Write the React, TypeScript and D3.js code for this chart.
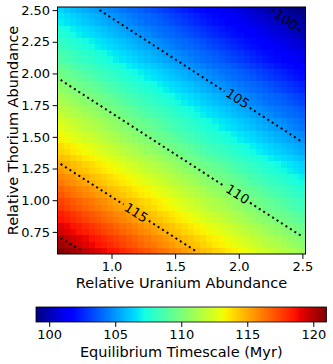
import React, { useEffect, useRef } from "react";
import * as d3 from "d3";

// cell centres of the image grid
const uraniumValues = [
  0.6, 0.649, 0.697, 0.746, 0.795, 0.844, 0.892, 0.941, 0.99, 1.038,
  1.087, 1.136, 1.185, 1.233, 1.282, 1.331, 1.379, 1.428, 1.477, 1.526,
  1.574, 1.623, 1.672, 1.721, 1.769, 1.818, 1.867, 1.915, 1.964, 2.013,
  2.062, 2.11, 2.159, 2.208, 2.256, 2.305, 2.354, 2.403, 2.451, 2.5,
];
const thoriumValues = [
  0.6, 0.649, 0.697, 0.746, 0.795, 0.844, 0.892, 0.941, 0.99, 1.038,
  1.087, 1.136, 1.185, 1.233, 1.282, 1.331, 1.379, 1.428, 1.477, 1.526,
  1.574, 1.623, 1.672, 1.721, 1.769, 1.818, 1.867, 1.915, 1.964, 2.013,
  2.062, 2.11, 2.159, 2.208, 2.256, 2.305, 2.354, 2.403, 2.451, 2.5,
];

// timescale (Myr) read along the gradient, one value per cell step,
// from the lower left corner towards the upper right corner
const timescaleProfile = [
  121.0, 120.7, 120.4, 120.1, 119.8, 119.5, 119.2, 118.9, 118.6, 118.4,
  118.1, 117.8, 117.5, 117.2, 117.0, 116.7, 116.4, 116.2, 115.9, 115.7,
  115.4, 115.1, 114.9, 114.6, 114.4, 114.1, 113.9, 113.6, 113.4, 113.2,
  112.9, 112.7, 112.4, 112.2, 112.0, 111.7, 111.5, 111.3, 111.1, 110.8,
  110.6, 110.4, 110.2, 109.9, 109.7, 109.5, 109.3, 109.1, 108.8, 108.6,
  108.4, 108.2, 108.0, 107.8, 107.6, 107.4, 107.2, 106.9, 106.7, 106.5,
  106.3, 106.1, 105.9, 105.7, 105.5, 105.3, 105.1, 104.9, 104.7, 104.5,
  104.3, 104.1, 104.0, 103.8, 103.6, 103.4, 103.2, 103.0, 102.8, 102.6,
  102.4, 102.2, 102.0, 101.9, 101.7, 101.5, 101.3, 101.1, 100.9, 100.8,
  100.6, 100.4, 100.2, 100.0, 99.9, 99.7, 99.5, 99.3, 99.1, 99.0,
];
// where each thorium row (bottom to top) starts in the profile
const rowOffsets = [
  0, 2, 3, 5, 6, 8, 9, 11, 12, 14, 15, 17, 18, 20, 21, 23, 25, 26, 28, 29,
  31, 32, 34, 35, 37, 38, 40, 41, 43, 44, 46, 48, 49, 51, 52, 54, 55, 57, 58, 60,
];

// dotted contour lines (ends)
const contourLevels = [100, 105, 110, 115, 120];
const contourStartU = [2.254, 0.906, 0.6, 0.6, 0.6];
const contourStartTh = [2.5, 2.5, 1.949, 1.286, 0.7];
const contourEndU = [2.5, 2.5, 2.5, 1.66, 0.77];
const contourEndTh = [2.325, 1.459, 0.712, 0.6, 0.6];

// inline contour labels
const labelLevels = [100, 105, 110, 115];
const labelU = [2.371, 1.992, 1.992, 1.194];
const labelTh = [2.426, 1.803, 1.049, 0.902];

const xTicks = [1.0, 1.5, 2.0, 2.5];
const yTicks = [0.75, 1.0, 1.25, 1.5, 1.75, 2.0, 2.25, 2.5];
const colorbarTicks = [100, 105, 110, 115, 120];

// matplotlib "jet"
const jetStops = [0, 0.11, 0.125, 0.34, 0.35, 0.375, 0.64, 0.65, 0.66, 0.89, 0.91, 1];
const jetColors = [
  "#000080", "#0000ff", "#0000ff", "#00dbff", "#00e6f7", "#15ffe2",
  "#eeff08", "#f7f600", "#ffec00", "#ff1300", "#e80000", "#800000",
];

const App = () => {
  const ref = useRef<SVGSVGElement>(null);

  useEffect(() => {
    const width = 333;
    const height = 364;
    const plot = { left: 57.5, right: 305.5, top: 7, bottom: 254 };
    const bar = { left: 36, right: 326.5, top: 307, bottom: 322 };
    const font = "DejaVu Sans";

    const svg = d3.select(ref.current).attr("width", width).attr("height", height);
    svg.selectAll("*").remove();

    const du = uraniumValues[1] - uraniumValues[0];
    const dth = thoriumValues[1] - thoriumValues[0];
    const x = d3
      .scaleLinear()
      .domain([uraniumValues[0] - du / 2, uraniumValues[uraniumValues.length - 1] + du / 2])
      .range([plot.left, plot.right]);
    const y = d3
      .scaleLinear()
      .domain([thoriumValues[0] - dth / 2, thoriumValues[thoriumValues.length - 1] + dth / 2])
      .range([plot.bottom, plot.top]);

    const cells: { u: number; th: number; value: number }[] = [];
    thoriumValues.forEach((th, j) => {
      uraniumValues.forEach((u, i) => {
        cells.push({ u, th, value: timescaleProfile[rowOffsets[j] + i] });
      });
    });

    const [vmin, vmax] = d3.extent(cells, (d) => d.value) as [number, number];
    const norm = d3.scaleLinear().domain([vmin, vmax]).range([0, 1]).clamp(true);
    const jet = d3
      .scaleLinear<string>()
      .domain(jetStops)
      .range(jetColors)
      .interpolate(d3.interpolateRgb);

    // heatmap
    svg
      .append("g")
      .selectAll("rect")
      .data(cells)
      .join("rect")
      .attr("x", (d) => Math.round(x(d.u - du / 2)))
      .attr("y", (d) => Math.round(y(d.th + dth / 2)))
      .attr("width", (d) => Math.round(x(d.u + du / 2)) - Math.round(x(d.u - du / 2)))
      .attr("height", (d) => Math.round(y(d.th - dth / 2)) - Math.round(y(d.th + dth / 2)))
      .attr("fill", (d) => jet(norm(d.value)))
      .attr("shape-rendering", "crispEdges");

    // contours with inline labels
    const line = d3.line();
    contourLevels.forEach((level, k) => {
      const p0: [number, number] = [x(contourStartU[k]), y(contourStartTh[k])];
      const p1: [number, number] = [x(contourEndU[k]), y(contourEndTh[k])];
      const len = Math.hypot(p1[0] - p0[0], p1[1] - p0[1]);
      const dir = [(p1[0] - p0[0]) / len, (p1[1] - p0[1]) / len];
      const at = (t: number): [number, number] => [p0[0] + dir[0] * t, p0[1] + dir[1] * t];
      let segments: [number, number][][] = [[p0, p1]];

      const li = labelLevels.indexOf(level);
      if (li >= 0) {
        const c = [x(labelU[li]), y(labelTh[li])];
        const t = (c[0] - p0[0]) * dir[0] + (c[1] - p0[1]) * dir[1];
        const gap = 15;
        segments = [];
        if (t - gap > 0) segments.push([p0, at(t - gap)]);
        if (t + gap < len) segments.push([at(t + gap), p1]);
        const angle = (Math.atan2(dir[1], dir[0]) * 180) / Math.PI;
        svg
          .append("text")
          .attr("transform", `translate(${c[0]},${c[1]}) rotate(${angle})`)
          .attr("text-anchor", "middle")
          .attr("dy", "0.36em")
          .attr("font-family", font)
          .attr("font-size", 13)
          .attr("fill", "#000")
          .text(level);
      }

      segments.forEach((s) => {
        svg
          .append("path")
          .attr("d", line(s))
          .attr("fill", "none")
          .attr("stroke", "#000")
          .attr("stroke-width", 2)
          .attr("stroke-dasharray", "2,3.3");
      });
    });

    // frame
    svg
      .append("rect")
      .attr("x", plot.left)
      .attr("y", plot.top)
      .attr("width", plot.right - plot.left)
      .attr("height", plot.bottom - plot.top)
      .attr("fill", "none")
      .attr("stroke", "#000")
      .attr("stroke-width", 1);

    // axes
    const xAxis = svg
      .append("g")
      .attr("transform", `translate(0,${plot.bottom})`)
      .call(d3.axisBottom(x).tickValues(xTicks).tickFormat(d3.format(".1f")).tickSize(4.9).tickPadding(3));
    xAxis.select(".domain").remove();
    xAxis.attr("font-family", font).attr("font-size", 13);

    const yAxis = svg
      .append("g")
      .attr("transform", `translate(${plot.left},0)`)
      .call(d3.axisLeft(y).tickValues(yTicks).tickFormat(d3.format(".2f")).tickSize(4.9).tickPadding(2.5));
    yAxis.select(".domain").remove();
    yAxis.attr("font-family", font).attr("font-size", 13);

    svg
      .append("text")
      .attr("x", (plot.left + plot.right) / 2)
      .attr("y", 287.5)
      .attr("text-anchor", "middle")
      .attr("font-family", font)
      .attr("font-size", 14.5)
      .text("Relative Uranium Abundance");

    svg
      .append("text")
      .attr("transform", `translate(18,${(plot.top + plot.bottom) / 2}) rotate(-90)`)
      .attr("text-anchor", "middle")
      .attr("font-family", font)
      .attr("font-size", 14.5)
      .text("Relative Thorium Abundance");

    // colorbar
    const grad = svg
      .append("defs")
      .append("linearGradient")
      .attr("id", "jetbar")
      .attr("x1", "0%")
      .attr("x2", "100%")
      .attr("y1", "0%")
      .attr("y2", "0%");
    jetStops.forEach((s, i) => {
      grad.append("stop").attr("offset", s).attr("stop-color", jetColors[i]);
    });

    svg
      .append("rect")
      .attr("x", bar.left)
      .attr("y", bar.top)
      .attr("width", bar.right - bar.left)
      .attr("height", bar.bottom - bar.top)
      .attr("fill", "url(#jetbar)")
      .attr("stroke", "#000")
      .attr("stroke-width", 0.8);

    const cx = d3.scaleLinear().domain([vmin, vmax]).range([bar.left, bar.right]);
    const cAxis = svg
      .append("g")
      .attr("transform", `translate(0,${bar.bottom})`)
      .call(d3.axisBottom(cx).tickValues(colorbarTicks).tickSize(4.9).tickPadding(3));
    cAxis.select(".domain").remove();
    cAxis.attr("font-family", font).attr("font-size", 13);

    svg
      .append("text")
      .attr("x", (bar.left + bar.right) / 2)
      .attr("y", 357)
      .attr("text-anchor", "middle")
      .attr("font-family", font)
      .attr("font-size", 14.5)
      .text("Equilibrium Timescale (Myr)");
  }, []);

  return (
    <div>
      <style>{"body{margin:0}"}</style>
      <svg ref={ref}></svg>
    </div>
  );
};

export default App;
